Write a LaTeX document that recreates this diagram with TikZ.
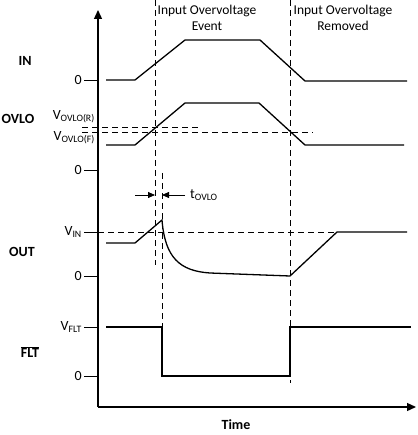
\documentclass[tikz,border=0pt]{standalone}
\usepackage{fontspec}
\setmainfont{Carlito}
\usetikzlibrary{positioning,arrows.meta}

\tikzset{
  sig/.style={line width=1.3pt},
  guide/.style={dash pattern=on 6pt off 4pt, line width=0.7pt},
  axis/.style={line width=1.3pt, -{Triangle[length=9pt,width=8pt]}},
  tickmark/.style={line width=0.8pt},
  siglabel/.style={font=\fontsize{14}{16}\selectfont\bfseries, inner sep=1pt},
  level/.style={font=\fontsize{14}{16}\selectfont, anchor=east, inner sep=1pt},
  header/.style={font=\fontsize{13.5}{16}\selectfont, align=center, inner sep=0pt},
}

\begin{document}
\begin{tikzpicture}[x=1pt,y=-1pt]
  \useasboundingbox (0,0) rectangle (417,435);

  % axes
  \coordinate (origin) at (98,407);
  \coordinate (ytop) at (98,10);
  \coordinate (xend) at (416,407);
  \draw[axis] (origin) -- (ytop);
  \draw[axis] (origin) -- (xend);

  % event markers
  \node[header] (event) at (207,18) {Input Overvoltage\\Event};
  \node[header] (removed) at (343,18) {Input Overvoltage\\Removed};
  \draw[guide] (155,0) -- (155,265);
  \draw[guide] (290,0) -- (290,383);
  \draw[guide] (162,173) -- (162,327);

  % zero ticks
  \foreach \y/\n in {80/inzero, 170/ovlozero, 276/outzero, 376/fltzero} {
    \draw[tickmark] (84,\y) -- (98,\y);
    \node[level] (\n) at (83,\y) {0};
  }
  \draw[tickmark] (84,232) -- (98,232);
  \node[level] (vin) at (83,232) {V\textsubscript{IN}};
  \draw[tickmark] (84,327) -- (98,327);
  \node[level] (vflt) at (83,327) {V\textsubscript{FLT}};

  % thresholds
  \draw[guide] (82,127) -- (200,127);
  \draw[guide] (82,132) -- (313,132);
  \node[level] (vr) at (96,117) {V\textsubscript{OVLO(R)}};
  \node[level] (vf) at (96,138) {V\textsubscript{OVLO(F)}};
  \draw[guide] (98,232) -- (337,232);

  % signal names
  \node[siglabel] (in) at (25,61) {IN};
  \node[siglabel] (ovlo) at (18,119) {OVLO};
  \node[siglabel] (out) at (22,252) {OUT};
  \node[siglabel] (flt) at (30,352) {$\overline{\mbox{FLT}}$};
  \node[siglabel] (time) at (236,425) {Time};

  % waveforms
  \draw[sig] (106,80) -- (135,80) -- (185,40) -- (260,40) -- (305,81) -- (407,81);
  \draw[sig] (106,145) -- (135,145) -- (185,103) -- (259,103) -- (305,145) -- (404,145);
  \draw[sig] (106,243) -- (135,243) -- (162,220)
    .. controls (165,258) and (180,271) .. (210,273) -- (290,276) -- (337,232) -- (407,232);
  \draw[sig] (106,327) -- (162,327) -- (162,376) -- (290,376) -- (290,327) -- (411,327);

  % delay
  \draw[line width=0.8pt, -{Triangle[length=7pt,width=6pt]}] (135,195) -- (155,195);
  \draw[line width=0.8pt, -{Triangle[length=7pt,width=6pt]}] (185,195) -- (162,195);
  \node[font=\fontsize{14}{16}\selectfont, anchor=west, inner sep=1pt] (tovlo) at (189,195) {t\textsubscript{OVLO}};
\end{tikzpicture}
\end{document}
